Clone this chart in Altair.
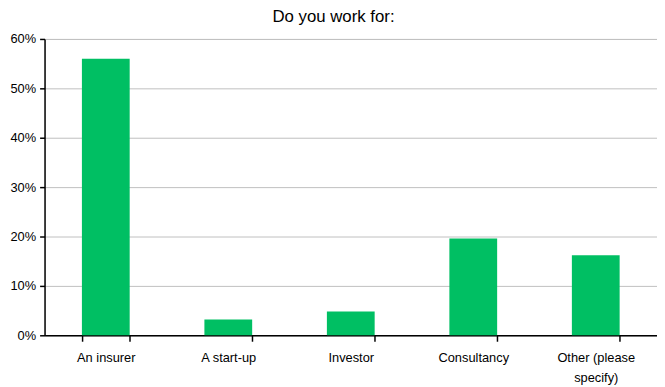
import altair as alt
import pandas as pd

categories = ["An insurer", "A start-up", "Investor", "Consultancy", "Other (please specify)"]
shares = [0.56, 0.032, 0.048, 0.196, 0.162]
y_ticks = [0, 0.1, 0.2, 0.3, 0.4, 0.5, 0.6]

df = pd.DataFrame({"category": categories, "share": shares})

FONT = "Liberation Sans"

chart = alt.Chart(df).mark_bar(color="#00BF63").encode(
    x=alt.X(
        "category:N",
        sort=categories,
        title=None,
        scale=alt.Scale(paddingInner=0.61, paddingOuter=0.305),
        axis=alt.Axis(
            labelAngle=0,
            labelFont=FONT,
            labelFontSize=13,
            labelColor="#000000",
            labelPadding=11,
            labelLineHeight=20,
            labelExpr="datum.label == 'Other (please specify)' ? ['Other (please', 'specify)'] : datum.label",
            domainColor="#000000",
            domainWidth=1.5,
            tickColor="#000000",
            tickWidth=1.5,
            tickSize=6,
            tickBand="extent",
            grid=False,
        ),
    ),
    y=alt.Y(
        "share:Q",
        title=None,
        scale=alt.Scale(domain=[0, 0.6], nice=False),
        axis=alt.Axis(
            values=y_ticks,
            format=".0%",
            labelFont=FONT,
            labelFontSize=13,
            labelColor="#000000",
            labelPadding=4,
            domainColor="#000000",
            domainWidth=1.5,
            tickColor="#000000",
            tickWidth=1.5,
            tickSize=5,
            grid=True,
            gridColor="#BFBFBF",
            gridWidth=1,
        ),
    ),
).properties(
    width=620,
    height=300,
    title=alt.Title(
        "Do you work for:",
        font=FONT,
        fontSize=17,
        fontWeight="normal",
        color="#000000",
        anchor="middle",
        frame="bounds",
        offset=7,
    ),
    autosize=alt.AutoSizeParams(type="none"),
    padding={"left": 37, "top": 29, "right": 0, "bottom": 50},
).configure_view(stroke=None).configure(background="#FFFFFF")

chart.save("out.html", embed_options={"renderer": "svg", "actions": False})
